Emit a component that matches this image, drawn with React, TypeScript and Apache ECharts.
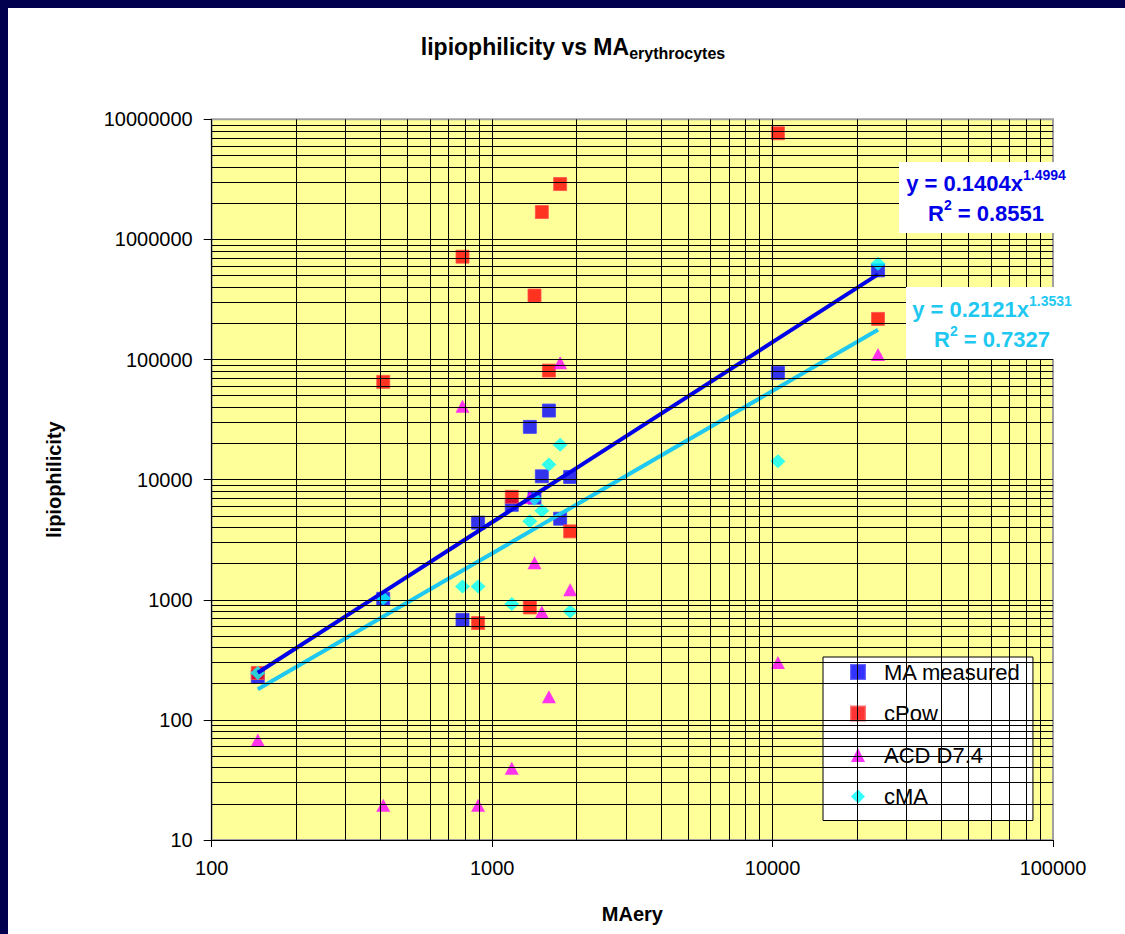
import React, { useEffect, useRef } from "react";
import * as echarts from "echarts";

// MA on erythrocytes (x) and the four lipophilicity estimates (y)
const maEry = [146, 409, 784, 891, 1175, 1363, 1416, 1504, 1594, 1748, 1898, 10450, 23770];
const maMeasured = [228, 1020, 681, 4385, 6170, 27500, 7080, 10660, 37600, 4730, 10530, 77500, 552000];
const cPow = [246, 65200, 718000, 640, 7200, 863, 341000, 1690000, 80900, 2890000, 3710, 7650000, 218000];
const acdD74 = [68, 19.5, 40800, 19.5, 39.6, 7100, 2030, 790, 156, 93800, 1212, 300, 110000];
const cMA = [246, 1030, 1292, 1292, 920, 4494, 6950, 5520, 13340, 19570, 800, 14200, 627000];

// power-law trendlines y = a * x^b
const fitMeasured = { a: 0.1404, b: 1.4994, r2: "0.8551" };
const fitCMA = { a: 0.2121, b: 1.3531, r2: "0.7327" };

const xDecades = [100, 1000, 10000, 100000];
const yDecades = [10, 100, 1000, 10000, 100000, 1000000, 10000000];

const FRAME_LEFT = 8;
const FRAME_TOP = 8;
const PAGE_W = 1125;
const PAGE_H = 934;

const FONT = 'Arial, "Liberation Sans", sans-serif';
const BLUE = "#0000E8";
const CYAN = "#1EC8F0";

function gridValues(decades: number[]) {
  const out: number[] = [];
  for (let i = 0; i < decades.length - 1; i++) {
    for (let m = 1; m <= 9; m++) {
      if (i === 0 && m === 1) continue;
      out.push(decades[i] * m);
    }
  }
  return out;
}

function fitLine(fit: { a: number; b: number }) {
  const xs = [...maEry].sort((p, q) => p - q);
  return xs.map((x) => [x, fit.a * Math.pow(x, fit.b)]);
}

function pts(ys: number[]) {
  return maEry.map((x, i) => [x, ys[i]]);
}

function eqText(fit: { a: number; b: number; r2: string }) {
  return `{m|y = ${fit.a.toFixed(4)}x}{sup|${fit.b.toFixed(4)}}\n{m|R}{sup|2}{m| = ${fit.r2}}`;
}

function eqRich(color: string) {
  return {
    m: { fontSize: 22, fontWeight: "bold", fontFamily: FONT, fill: color, color, lineHeight: 30 },
    sup: { fontSize: 14, fontWeight: "bold", fontFamily: FONT, fill: color, color, verticalAlign: "top" },
  };
}

export default function App() {
  const ref = useRef<HTMLDivElement>(null);

  useEffect(() => {
    if (!ref.current) return;
    const chart = echarts.init(ref.current, null, { renderer: "svg" });
    const ox = (v: number) => v - FRAME_LEFT;
    const oy = (v: number) => v - FRAME_TOP;

    const plotLeft = 211.7;
    const plotRight = 1053;
    const plotTop = 119.3;
    const plotBottom = 840;

    const fmt = (v: number) => String(Math.round(v));

    const scatterBase = {
      type: "scatter",
      z: 3,
      emphasis: { disabled: true },
    };

    chart.setOption({
      animation: false,
      backgroundColor: "transparent",
      textStyle: { fontFamily: FONT },
      grid: {
        left: ox(plotLeft),
        top: oy(plotTop),
        width: plotRight - plotLeft,
        height: plotBottom - plotTop,
        show: true,
        backgroundColor: "#FFFF99",
        borderColor: "#A0A0A0",
        borderWidth: 2,
      },
      xAxis: {
        type: "log",
        logBase: 10,
        min: 100,
        max: 100000,
        name: "MAery",
        nameLocation: "middle",
        nameGap: 64,
        nameTextStyle: { fontSize: 20, fontWeight: "bold", color: "#000", fontFamily: FONT },
        axisLine: { show: true, lineStyle: { color: "#000", width: 1 } },
        axisTick: { show: true, length: 7, lineStyle: { color: "#000" } },
        axisLabel: { color: "#000", fontSize: 20, margin: 18, formatter: fmt, fontFamily: FONT },
        splitLine: { show: false },
        minorTick: { show: false },
      },
      yAxis: {
        type: "log",
        logBase: 10,
        min: 10,
        max: 10000000,
        name: "lipiophilicity",
        nameLocation: "middle",
        nameGap: 148,
        nameRotate: 90,
        nameTextStyle: { fontSize: 20, fontWeight: "bold", color: "#000", fontFamily: FONT },
        axisLine: { show: true, lineStyle: { color: "#000", width: 1 } },
        axisTick: { show: true, length: 8, lineStyle: { color: "#000" } },
        axisLabel: { color: "#000", fontSize: 20, margin: 19, formatter: fmt, fontFamily: FONT },
        splitLine: { show: false },
        minorTick: { show: false },
      },
      legend: {
        data: ["MA measured", "cPow", "ACD D7.4", "cMA"],
        orient: "vertical",
        left: ox(823),
        top: oy(657),
        padding: [4, 12, 13, 27],
        itemGap: 19.5,
        itemWidth: 14,
        itemHeight: 14,
        backgroundColor: "#FFFFFF",
        borderColor: "#000",
        borderWidth: 1,
        borderRadius: 0,
        selectedMode: false,
        textStyle: { fontSize: 22, color: "#000", fontFamily: FONT, padding: [0, 0, 0, 14] },
      },
      series: [
        {
          name: "grid",
          type: "line",
          data: [],
          z: 1,
          silent: true,
          markLine: {
            silent: true,
            symbol: ["none", "none"],
            label: { show: false },
            emphasis: { disabled: true },
            animation: false,
            lineStyle: { color: "#000", width: 1, type: "solid" },
            data: [
              ...gridValues(xDecades).map((v) => ({ xAxis: v })),
              ...gridValues(yDecades).map((v) => ({ yAxis: v })),
            ],
          },
        },
        {
          ...scatterBase,
          name: "MA measured",
          symbol: "rect",
          symbolSize: 13,
          itemStyle: { color: "#0000FF", borderColor: "#4040FF", borderWidth: 1 },
          data: pts(maMeasured),
        },
        {
          ...scatterBase,
          name: "cPow",
          symbol: "rect",
          symbolSize: 13,
          itemStyle: { color: "#FF0000", borderColor: "#FF5050", borderWidth: 1 },
          data: pts(cPow),
        },
        {
          ...scatterBase,
          name: "ACD D7.4",
          symbol: "triangle",
          symbolSize: [14, 13],
          itemStyle: { color: "#FF00FF" },
          data: pts(acdD74),
        },
        {
          ...scatterBase,
          name: "cMA",
          symbol: "diamond",
          symbolSize: [15, 14],
          itemStyle: { color: "#00FFFF" },
          data: pts(cMA),
        },
        {
          name: "fit MA measured",
          type: "line",
          z: 4,
          silent: true,
          symbol: "none",
          lineStyle: { color: BLUE, width: 4 },
          data: fitLine(fitMeasured),
        },
        {
          name: "fit cMA",
          type: "line",
          z: 4,
          silent: true,
          symbol: "none",
          lineStyle: { color: CYAN, width: 4 },
          data: fitLine(fitCMA),
        },
      ],
      graphic: [
        {
          type: "text",
          x: ox(573),
          y: oy(47),
          style: {
            text: "{t|lipiophilicity vs MA}{s|erythrocytes}",
            align: "center",
            verticalAlign: "middle",
            rich: {
              t: { fontSize: 23, fontWeight: "bold", fontFamily: FONT, fill: "#000", color: "#000", lineHeight: 29 },
              s: { fontSize: 16, fontWeight: "bold", fontFamily: FONT, fill: "#000", color: "#000", verticalAlign: "bottom" },
            },
          },
        },
        {
          type: "rect",
          z: 10,
          shape: { x: ox(899), y: oy(162), width: 180, height: 71 },
          style: { fill: "#FFFFFF" },
        },
        {
          type: "text",
          z: 11,
          x: ox(986),
          y: oy(198),
          style: {
            text: eqText(fitMeasured),
            align: "center",
            verticalAlign: "middle",
            rich: eqRich(BLUE),
          },
        },
        {
          type: "rect",
          z: 10,
          shape: { x: ox(906), y: oy(287), width: 180, height: 72 },
          style: { fill: "#FFFFFF" },
        },
        {
          type: "text",
          z: 11,
          x: ox(992),
          y: oy(324),
          style: {
            text: eqText(fitCMA),
            align: "center",
            verticalAlign: "middle",
            rich: eqRich(CYAN),
          },
        },
      ],
    });

    return () => chart.dispose();
  }, []);

  return (
    <div
      style={{
        position: "fixed",
        left: 0,
        top: 0,
        width: PAGE_W,
        height: PAGE_H,
        background: "#00004E",
        overflow: "hidden",
      }}
    >
      <div
        ref={ref}
        style={{
          position: "absolute",
          left: FRAME_LEFT,
          top: FRAME_TOP,
          width: PAGE_W - FRAME_LEFT,
          height: PAGE_H - FRAME_TOP,
          background: "#FFFFFF",
        }}
      />
    </div>
  );
}
